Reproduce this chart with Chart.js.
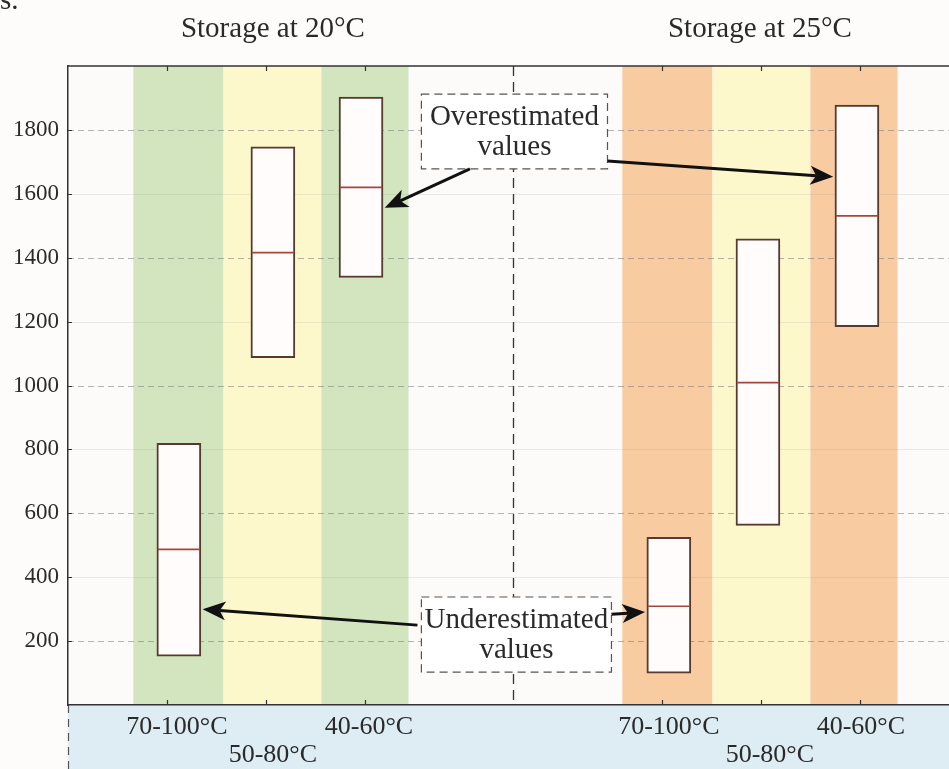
<!DOCTYPE html>
<html>
<head>
<meta charset="utf-8">
<script src="https://cdn.jsdelivr.net/npm/chart.js@4.4.1/dist/chart.umd.min.js"></script>
<style>
  html, body { margin: 0; padding: 0; background: #fdfcfb; }
  #wrap { width: 949px; height: 769px; position: relative; }
</style>
</head>
<body>
<div id="wrap"><canvas id="myChart" width="949" height="769"></canvas></div>
<script>
// boxes: x slot (1..3 = 20°C group, 6..8 = 25°C group), low / high / median
const boxX = [1.12, 2.07, 2.96, 6.07, 6.97, 7.97];
const boxLow = [153, 1087, 1338, 100, 562, 1184];
const boxHigh = [819, 1747, 1903, 525, 1459, 1878];
const boxMedian = [487, 1416, 1620, 309, 1009, 1531];

// category ticks and their labels
const tickX = [1, 2, 3, 6, 7, 8];
const labelX = [1.10, 2.07, 3.04, 6.07, 7.09, 8.01];
const xLabels = ['70-100°C', ['', '50-80°C'], '40-60°C', '70-100°C', ['', '50-80°C'], '40-60°C'];
const yTicks = [200, 400, 600, 800, 1000, 1200, 1400, 1600, 1800];

// coloured background bands
const bandFrom = [0.66, 1.57, 2.56, 5.60, 6.51, 7.50];
const bandTo = [1.57, 2.56, 3.44, 6.51, 7.50, 8.38];
const bandColors = ['#d2e5bf', '#fdf8cc', '#d2e5bf', '#f9cba0', '#fdf8cc', '#f9cba0'];

const groupTitles = ['Storage at 20°C', 'Storage at 25°C'];
const groupTitleX = [2.07, 6.99];
const dividerX = 4.5;

// annotations (in axis units)
const noteLines = [['Overestimated', 'values'], ['Underestimated', 'values']];
const noteBoxes = [[3.57, 1912, 5.45, 1678], [3.57, 338, 5.49, 103]];
const arrows = [
    [4.06, 1678, 3.20, 1556],
    [5.45, 1703, 7.73, 1653],
    [3.53, 250, 1.36, 300],
    [5.49, 284, 5.83, 291]
];

const serif = '"Liberation Serif", "DejaVu Serif", serif';

function drawArrow(ctx, x1, y1, x2, y2) {
    const ang = Math.atan2(y2 - y1, x2 - x1);
    const len = 23, half = 9.5;
    const bx = x2 - Math.cos(ang) * len, by = y2 - Math.sin(ang) * len;
    ctx.strokeStyle = '#111';
    ctx.fillStyle = '#111';
    ctx.lineWidth = 3;
    ctx.setLineDash([]);
    ctx.beginPath();
    ctx.moveTo(x1, y1);
    ctx.lineTo(bx + Math.cos(ang) * 6, by + Math.sin(ang) * 6);
    ctx.stroke();
    ctx.beginPath();
    ctx.moveTo(x2, y2);
    ctx.lineTo(bx - Math.sin(ang) * half, by + Math.cos(ang) * half);
    ctx.lineTo(bx + Math.cos(ang) * 6, by + Math.sin(ang) * 6);
    ctx.lineTo(bx + Math.sin(ang) * half, by - Math.cos(ang) * half);
    ctx.closePath();
    ctx.fill();
}

const decor = {
    id: 'decor',
    beforeDraw(chart) {
        const {ctx, chartArea: a, scales: {x, y}} = chart;
        ctx.save();
        ctx.fillStyle = '#fdfbfa';
        ctx.fillRect(a.left, a.top, a.right - a.left, a.bottom - a.top);

        bandFrom.forEach((f, i) => {
            const x1 = x.getPixelForValue(f);
            const x2 = x.getPixelForValue(bandTo[i]);
            ctx.fillStyle = bandColors[i];
            ctx.fillRect(x1, a.top, x2 - x1, a.bottom - a.top);
        });

        // grid: dashed on 200, 600, ... and faint solid on 400, 800, ...
        yTicks.forEach(v => {
            const py = Math.round(y.getPixelForValue(v)) + 0.5;
            ctx.beginPath();
            if (v % 400 === 200) {
                ctx.strokeStyle = 'rgba(120,120,120,0.55)';
                ctx.setLineDash([6, 4]);
            } else {
                ctx.strokeStyle = 'rgba(150,150,140,0.18)';
                ctx.setLineDash([]);
            }
            ctx.lineWidth = 1;
            ctx.moveTo(a.left, py);
            ctx.lineTo(a.right, py);
            ctx.stroke();
        });

        // light blue strip under the axis
        ctx.setLineDash([]);
        ctx.fillStyle = '#deedf3';
        ctx.fillRect(a.left, a.bottom, chart.width - a.left, chart.height - a.bottom);
        ctx.strokeStyle = '#555';
        ctx.lineWidth = 1.2;
        ctx.setLineDash([8, 6]);
        ctx.beginPath();
        ctx.moveTo(a.left + 0.5, a.bottom);
        ctx.lineTo(a.left + 0.5, chart.height);
        ctx.stroke();

        // group divider
        const dx = Math.round(x.getPixelForValue(dividerX)) + 0.5;
        ctx.strokeStyle = '#333';
        ctx.lineWidth = 1.3;
        ctx.setLineDash([10, 6]);
        ctx.beginPath();
        ctx.moveTo(dx, a.top);
        ctx.lineTo(dx, a.bottom);
        ctx.stroke();
        ctx.setLineDash([]);

        // group titles
        ctx.fillStyle = '#2a2a2a';
        ctx.font = '29px ' + serif;
        ctx.textAlign = 'center';
        ctx.textBaseline = 'alphabetic';
        groupTitles.forEach((t, i) => ctx.fillText(t, x.getPixelForValue(groupTitleX[i]), 37));

        // cut-off caption text from the page above
        ctx.textAlign = 'left';
        ctx.fillText('s.', 0, 9);
        ctx.restore();
    },
    afterDatasetsDraw(chart) {
        const {ctx, chartArea: a, scales: {x, y}} = chart;
        ctx.save();

        // top border
        ctx.strokeStyle = '#333';
        ctx.lineWidth = 1.5;
        ctx.beginPath();
        ctx.moveTo(a.left, a.top);
        ctx.lineTo(a.right, a.top);
        ctx.stroke();

        // inner tick marks
        ctx.lineWidth = 1.2;
        ctx.beginPath();
        tickX.forEach(v => {
            const px = Math.round(x.getPixelForValue(v)) + 0.5;
            ctx.moveTo(px, a.top);
            ctx.lineTo(px, a.top + 5);
            ctx.moveTo(px, a.bottom);
            ctx.lineTo(px, a.bottom - 5);
        });
        yTicks.forEach(v => {
            const py = Math.round(y.getPixelForValue(v)) + 0.5;
            ctx.moveTo(a.left, py);
            ctx.lineTo(a.left + 4, py);
        });
        ctx.stroke();

        // note boxes
        noteBoxes.forEach((b, i) => {
            const x1 = x.getPixelForValue(b[0]), y1 = y.getPixelForValue(b[1]);
            const x2 = x.getPixelForValue(b[2]), y2 = y.getPixelForValue(b[3]);
            ctx.fillStyle = '#ffffff';
            ctx.fillRect(x1, y1, x2 - x1, y2 - y1);
            ctx.strokeStyle = '#555';
            ctx.lineWidth = 1.2;
            ctx.setLineDash([8, 5]);
            ctx.strokeRect(x1, y1, x2 - x1, y2 - y1);
            ctx.setLineDash([]);
            ctx.fillStyle = '#2a2a2a';
            ctx.font = '29px ' + serif;
            ctx.textAlign = 'center';
            ctx.textBaseline = 'middle';
            const cx = (x1 + x2) / 2, cy = (y1 + y2) / 2;
            ctx.fillText(noteLines[i][0], cx, cy - 14);
            ctx.fillText(noteLines[i][1], cx, cy + 16);
        });

        arrows.forEach(r => drawArrow(ctx,
            x.getPixelForValue(r[0]), y.getPixelForValue(r[1]),
            x.getPixelForValue(r[2]), y.getPixelForValue(r[3])));
        ctx.restore();
    }
};

const data = {
    datasets: [{
        type: 'scatter',
        order: 0,
        data: boxX.map((v, i) => ({x: v, y: boxMedian[i]})),
        pointStyle: 'line',
        pointRadius: 21,
        pointHoverRadius: 21,
        pointBorderColor: '#a8443a',
        pointBorderWidth: 1.7,
        borderColor: '#a8443a'
    }, {
        type: 'bar',
        order: 1,
        data: boxX.map((v, i) => ({x: v, y: [boxLow[i], boxHigh[i]]})),
        backgroundColor: '#fffcfb',
        borderColor: '#57392f',
        borderWidth: 2,
        borderSkipped: false,
        barThickness: 44
    }]
};

const options = {
    responsive: false,
    animation: false,
    devicePixelRatio: 1,
    layout: {autoPadding: false, padding: {top: 66, left: 0, right: 0, bottom: 0}},
    plugins: {legend: {display: false}, tooltip: {enabled: false}},
    scales: {
        x: {
            type: 'linear',
            min: 0,
            max: 8.9,
            offset: false,
            grid: {display: true, drawOnChartArea: false, drawTicks: false, offset: false},
            border: {display: true, color: '#333', width: 1.5},
            afterBuildTicks: s => { s.ticks = labelX.map(v => ({value: v})); },
            afterFit: s => { s.height = 64; s.paddingLeft = 0; s.paddingRight = 0; },
            ticks: {
                autoSkip: false,
                maxRotation: 0,
                padding: 8,
                color: '#2a2a2a',
                font: {family: serif, size: 26, lineHeight: 1.08},
                callback: (v, i) => xLabels[i]
            }
        },
        y: {
            min: 0,
            max: 2000,
            grid: {display: true, drawOnChartArea: false, drawTicks: false},
            border: {display: true, color: '#333', width: 1.5},
            afterBuildTicks: s => { s.ticks = yTicks.map(v => ({value: v})); },
            afterFit: s => { s.width = 68; s.paddingTop = 0; s.paddingBottom = 0; },
            ticks: {
                padding: 9,
                color: '#2a2a2a',
                font: {family: serif, size: 23},
                callback: v => String(v)
            }
        }
    }
};

const boxChart = new Chart(document.getElementById('myChart'), {
    type: 'bar',
    data: data,
    options: options,
    plugins: [decor]
});
</script>
</body>
</html>
